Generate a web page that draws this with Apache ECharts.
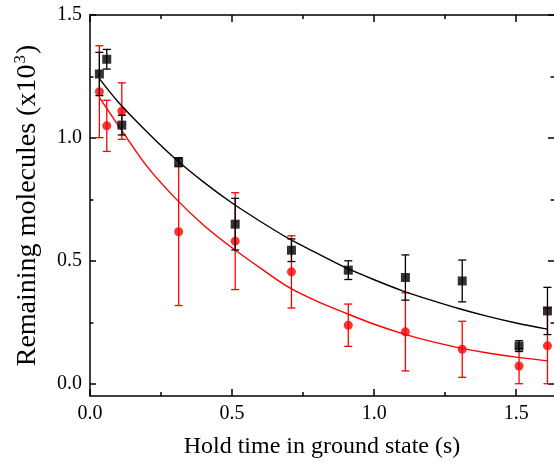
<!DOCTYPE html>
<html>
<head>
<meta charset="utf-8">
<script src="https://cdn.jsdelivr.net/npm/echarts@6/dist/echarts.min.js"></script>
<style>
  html, body { margin: 0; padding: 0; background: #fff; }
  #chart { width: 554px; height: 466px; }
</style>
</head>
<body>
<div id="chart"></div>
<script>
// ---- data ----
const holdTimes = [0.033, 0.059, 0.112, 0.312, 0.511, 0.709, 0.909, 1.11, 1.31, 1.51, 1.61];
const blackValues = [1.26, 1.32, 1.052, 0.901, 0.649, 0.543, 0.462, 0.432, 0.418, 0.153, 0.296];
const blackErrors = [0.088, 0.04, 0.04, 0.018, 0.105, 0.046, 0.038, 0.092, 0.085, 0.022, 0.096];
const redValues = [1.188, 1.049, 1.109, 0.618, 0.58, 0.455, 0.238, 0.211, 0.14, 0.072, 0.154];
const redErrors = [0.187, 0.104, 0.115, 0.30, 0.197, 0.147, 0.086, 0.159, 0.114, 0.072, 0.154];

const fitTimes = [0.033, 0.1, 0.2, 0.3, 0.4, 0.5, 0.6, 0.7, 0.8, 0.9, 1.0, 1.1, 1.2, 1.3, 1.4, 1.5, 1.61];
const blackFit = [1.241, 1.145, 1.025, 0.915, 0.82, 0.735, 0.66, 0.59, 0.53, 0.472, 0.423, 0.378, 0.34, 0.305, 0.274, 0.247, 0.222];
const redFit = [1.165, 1.05, 0.885, 0.755, 0.645, 0.553, 0.47, 0.392, 0.335, 0.287, 0.242, 0.204, 0.172, 0.146, 0.125, 0.108, 0.093];

const xMajorTicks = [0, 0.5, 1.0, 1.5];
const xMinorTicks = [0.25, 0.75, 1.25];
const yMajorTicks = [0, 0.5, 1.0, 1.5];
const yMinorTicks = [0.25, 0.75, 1.25];

// ---- chart ----
const FONT = 'Liberation Serif';
const pts = (xs, ys) => xs.map((x, i) => [x, ys[i]]);
const errData = (xs, ys, es) => xs.map((x, i) => [x, ys[i] - es[i], ys[i] + es[i]]);

function errorBar(color) {
  return function (params, api) {
    const x = api.value(0);
    const lo = api.coord([x, api.value(1)]);
    const hi = api.coord([x, api.value(2)]);
    const hw = 4;
    const style = { stroke: color, lineWidth: 1.3 };
    return {
      type: 'group',
      children: [
        { type: 'line', shape: { x1: lo[0], y1: lo[1], x2: hi[0], y2: hi[1] }, style },
        { type: 'line', shape: { x1: hi[0] - hw, y1: hi[1], x2: hi[0] + hw, y2: hi[1] }, style },
        { type: 'line', shape: { x1: lo[0] - hw, y1: lo[1], x2: lo[0] + hw, y2: lo[1] }, style }
      ]
    };
  };
}

const X_MIN = 0, X_MAX = 1.633, Y_MIN = -0.05, Y_MAX = 1.5;
const lineStyle = { color: '#000', width: 1.5 };

function xAxis(position, ticks, len, main) {
  return {
    type: 'value', position, min: X_MIN, max: X_MAX,
    splitLine: { show: false },
    axisLine: { show: main, onZero: false, lineStyle },
    axisTick: { show: true, inside: true, length: len, customValues: ticks, lineStyle: { color: '#000', width: 1.5 } },
    axisLabel: position === 'bottom' && main ? {
      show: true, customValues: ticks, margin: 8, color: '#000',
      fontFamily: FONT, fontSize: 20, formatter: v => v.toFixed(1)
    } : { show: false },
    name: position === 'bottom' && main ? 'Hold time in ground state (s)' : '',
    nameLocation: 'middle', nameGap: 39,
    nameTextStyle: { fontFamily: FONT, fontSize: 24, color: '#000' }
  };
}
function yAxis(position, ticks, len, main) {
  return {
    type: 'value', position, min: Y_MIN, max: Y_MAX,
    splitLine: { show: false },
    axisLine: { show: main && position === 'left', onZero: false, lineStyle },
    axisTick: { show: true, inside: true, length: len, customValues: ticks, lineStyle: { color: '#000', width: 1.5 } },
    axisLabel: position === 'left' && main ? {
      show: true, customValues: ticks, margin: 8, color: '#000',
      fontFamily: FONT, fontSize: 20, formatter: v => v.toFixed(1)
    } : { show: false },
    name: position === 'left' && main ? '{a|Remaining molecules (x10}{s|3}{a|)}' : '',
    nameLocation: 'middle', nameGap: 46,
    nameTextStyle: {
      color: '#000',
      rich: {
        a: { fontFamily: FONT, fontSize: 28, color: '#000', lineHeight: 32 },
        s: { fontFamily: FONT, fontSize: 17, color: '#000', verticalAlign: 'top', lineHeight: 32, padding: [0, 1, 14, 1] }
      }
    }
  };
}

const chart = echarts.init(document.getElementById('chart'), null, { renderer: 'canvas' });
chart.setOption({
  animation: false,
  backgroundColor: '#fff',
  grid: { left: 90, top: 15, width: 464, height: 381, containLabel: false },
  xAxis: [
    xAxis('bottom', xMajorTicks, 7, true),
    xAxis('bottom', xMinorTicks, 4, false),
    xAxis('top', xMajorTicks, 7, true),
    xAxis('top', xMinorTicks, 4, false)
  ],
  yAxis: [
    yAxis('left', yMajorTicks, 6, true),
    yAxis('left', yMinorTicks, 3.5, false),
    yAxis('right', yMajorTicks, 6, true),
    yAxis('right', yMinorTicks, 3.5, false)
  ],
  series: [
    { type: 'custom', renderItem: errorBar('#ff0000'), data: errData(holdTimes, redValues, redErrors), z: 2, clip: false },
    { type: 'line', data: pts(fitTimes, redFit), smooth: 0.3, showSymbol: false, lineStyle: { color: '#ff0000', width: 1.4 }, z: 3 },
    { type: 'scatter', data: pts(holdTimes, redValues), symbol: 'circle', symbolSize: 9, itemStyle: { color: '#ff0000' }, z: 4 },
    { type: 'custom', renderItem: errorBar('#000'), data: errData(holdTimes, blackValues, blackErrors), z: 5, clip: false },
    { type: 'line', data: pts(fitTimes, blackFit), smooth: 0.3, showSymbol: false, lineStyle: { color: '#000', width: 1.4 }, z: 6 },
    { type: 'scatter', data: pts(holdTimes, blackValues), symbol: 'rect', symbolSize: 9, itemStyle: { color: '#000' }, z: 7 }
  ]
});
</script>
</body>
</html>
